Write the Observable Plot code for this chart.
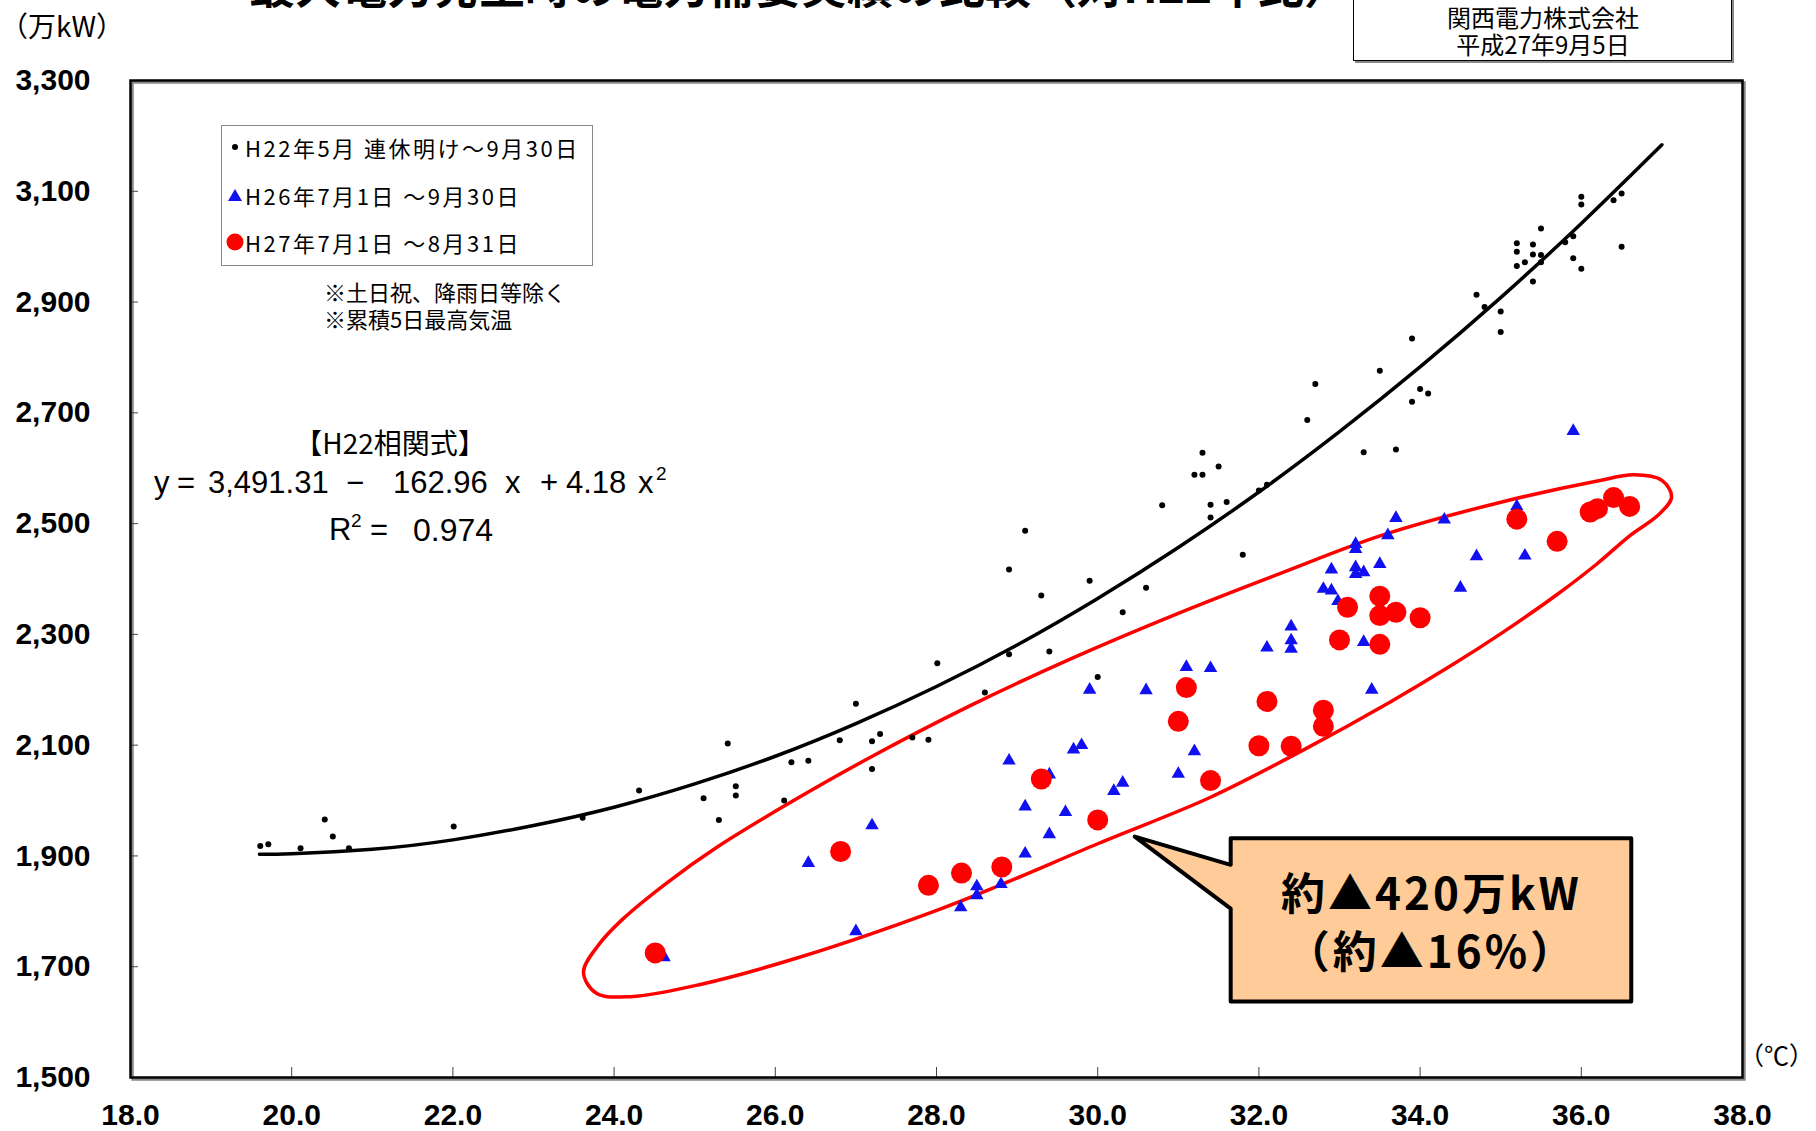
<!DOCTYPE html>
<html><head><meta charset="utf-8">
<script src="https://cdn.jsdelivr.net/npm/d3@7"></script>
<script src="https://cdn.jsdelivr.net/npm/@observablehq/plot@0.6"></script>
<style>
body{margin:0;background:#fff;}
#wrap{position:relative;width:1816px;height:1131px;overflow:hidden;font-family:"Noto Sans CJK JP",sans-serif;color:#000;}
.abs{position:absolute;white-space:nowrap;line-height:1;}
.eq{position:absolute;white-space:nowrap;line-height:1;font-family:'Liberation Sans',Arial,sans-serif;font-size:31px;}
#wrap > svg{position:absolute;left:0;top:0;}
</style></head><body><div id="wrap"></div>
<script>
// ---- data (temperature °C, demand 万kW) ----
const h22 = [[19.61,1918],[19.71,1921],[20.11,1914],[20.41,1966],[20.51,1935],[20.71,1914],[22.01,1953],[23.61,1969],[24.31,2018],[25.11,2004],[25.30,1965],[25.41,2103],[25.51,2026],[25.51,2009],[26.11,2000],[26.20,2069],[26.41,2072],[26.80,2109],[27.00,2175],[27.20,2107],[27.20,2057],[27.30,2120],[27.70,2114],[27.90,2110],[28.01,2248],[28.60,2195],[28.90,2417],[28.90,2264],[29.10,2487],[29.30,2370],[29.40,2269],[29.90,2397],[30.00,2223],[30.31,2340],[30.60,2384],[30.80,2533],[31.20,2588],[31.30,2588],[31.30,2628],[31.40,2534],[31.40,2511],[31.50,2603],[31.60,2539],[31.80,2444],[32.00,2560],[32.10,2570],[32.60,2687],[32.70,2752],[33.30,2629],[33.50,2776],[33.70,2634],[33.90,2834],[33.90,2720],[34.00,2743],[34.10,2735],[34.70,2913],[34.80,2891],[35.00,2883],[35.00,2846],[35.20,3006],[35.20,2991],[35.20,2965],[35.30,2972],[35.40,3004],[35.40,2986],[35.40,2937],[35.50,3033],[35.50,2985],[35.50,2972],[35.80,3008],[35.90,3019],[35.90,2979],[36.00,3090],[36.00,3076],[36.00,2960],[36.40,3084],[36.50,3096],[36.50,3000]];
const h26 = [[24.62,1717],[26.41,1887],[27.00,1764],[27.20,1955],[28.30,1807],[28.50,1845],[28.50,1829],[28.80,1849],[28.90,2072],[29.10,1904],[29.10,1989],[29.40,1939],[29.40,2047],[29.60,1979],[29.70,2092],[29.80,2100],[29.90,2200],[30.20,2017],[30.31,2032],[30.60,2199],[31.00,2048],[31.10,2241],[31.20,2089],[31.40,2239],[32.10,2276],[32.40,2314],[32.40,2289],[32.40,2274],[32.80,2382],[32.90,2379],[32.98,2360],[32.90,2417],[33.20,2463],[33.20,2454],[33.20,2421],[33.20,2409],[33.30,2412],[33.30,2286],[33.40,2200],[33.50,2427],[33.60,2479],[33.70,2510],[34.30,2507],[34.50,2384],[34.70,2441],[35.20,2531],[35.30,2442],[35.90,2667]];
const h27 = [[24.51,1725],[26.81,1908],[27.90,1847],[28.31,1869],[28.81,1880],[29.30,2039],[30.00,1965],[31.00,2143],[31.10,2204],[31.40,2036],[32.00,2099],[32.10,2179],[32.40,2098],[32.80,2163],[32.80,2134],[33.00,2290],[33.10,2349],[33.50,2369],[33.50,2334],[33.50,2282],[33.70,2340],[34.00,2330],[35.20,2508],[35.70,2468],[36.11,2521],[36.20,2527],[36.40,2547],[36.60,2531]];
// H22 regression curve
const curvePts = [[19.6,1903],[20,1904],[21,1912],[22,1929],[23,1955],[24,1988],[25,2030],[26,2080],[27,2139],[28,2206],[29,2281],[30,2365],[31,2457],[32,2557],[33,2666],[34,2783],[35,2908],[36,3042],[37,3184]];
// red annotation ellipse outline
const ellipsePts = [[23.62,1690],[23.80,1738],[24.10,1785],[24.66,1852],[25.28,1916],[26.11,1990],[27.14,2075],[28.40,2170],[29.70,2258],[31.00,2338],[32.30,2412],[33.55,2480],[35.04,2540],[36.20,2577],[36.65,2588],[37.00,2578],[37.12,2548],[36.95,2515],[36.60,2478],[36.20,2428],[35.70,2372],[35.04,2305],[34.40,2245],[33.63,2178],[32.56,2092],[31.40,2006],[30.00,1922],[28.80,1848],[27.97,1800],[26.32,1718],[25.07,1668],[24.21,1646],[23.78,1652]];
// callout bubble outline and texts
const calloutPts = [[31.65,1932],[36.62,1932],[36.62,1637],[31.65,1637],[31.65,1805],[30.46,1935],[31.65,1884]];
const calloutText = [{x:34.14,y:1827,label:"約▲420万kW"},{x:34.14,y:1724,label:"（約▲16%）"}];
const xTicks = [18,20,22,24,26,28,30,32,34,36,38];
const yTicks = [1500,1700,1900,2100,2300,2500,2700,2900,3100,3300];
const legendLabels = ["H22年5月 連休明け～9月30日","H26年7月1日 ～9月30日","H27年7月1日 ～8月31日"];
const notes = ["※土日祝、降雨日等除く","※累積5日最高気温"];
const titleText = "最大電力発生時の電力需要実績の比較（対H22年比）";
const orgLines = ["関西電力株式会社","平成27年9月5日"];
// equation tokens: [text, left px]
const eqTokens = [["y",154],["=",177],["3,491.31",208],["−",346],["162.96",393],["x",505],["+",540],["4.18",566],["x",638]];

const W=1816,H=1131,mL=130,mR=74,mT=80,mB=54;
const pw=W-mL-mR, ph=H-mT-mB;
const chart = Plot.plot({
  width:W,height:H,marginLeft:mL,marginRight:mR,marginTop:mT,marginBottom:mB,
  style:{fontFamily:"'Liberation Sans', Arial, sans-serif",background:"transparent",color:"#000"},
  x:{domain:[18,38]},
  y:{domain:[1500,3300]},
  marks:[
    Plot.frame({stroke:"#888",strokeWidth:2.5,dx:2,dy:2}),
    Plot.axisX({ticks:xTicks,tickSize:0,tickPadding:26,tickFormat:d3.format(".1f"),fontSize:30,fontWeight:"bold",label:null}),
    Plot.axisY({ticks:yTicks,tickSize:0,tickPadding:40,tickFormat:d3.format(","),fontSize:30,fontWeight:"bold",label:null}),
    Plot.tickX(xTicks.slice(1,-1),{x:d=>d,insetTop:ph-10,stroke:"#444",strokeWidth:1}),
    Plot.tickY(yTicks.slice(1,-1),{y:d=>d,insetRight:pw-8,stroke:"#444",strokeWidth:1}),
    Plot.line(ellipsePts,{x:d=>d[0],y:d=>d[1],stroke:"#ff0000",strokeWidth:3.5,curve:"catmull-rom-closed"}),
    Plot.line(curvePts,{x:d=>d[0],y:d=>d[1],stroke:"#000",strokeWidth:3.5,curve:"natural"}),
    Plot.dot(h22,{x:d=>d[0],y:d=>d[1],r:3,fill:"#000"}),
    Plot.dot(h26,{x:d=>d[0],y:d=>d[1],r:5,symbol:"triangle",fill:"#1010f0"}),
    Plot.dot(h27,{x:d=>d[0],y:d=>d[1],r:10.5,fill:"#ff0000"}),
    Plot.line(calloutPts,{x:d=>d[0],y:d=>d[1],fill:"#ffcc99",stroke:"#000",strokeWidth:4,curve:"linear-closed"}),
    Plot.text(calloutText,{x:"x",y:"y",text:"label",fontSize:44,fontWeight:"bold",fontFamily:"'Noto Sans CJK JP', sans-serif",fill:"#000"}),
    Plot.frame({stroke:"#000",strokeWidth:2.5})
  ]
});
const wrap=document.getElementById("wrap");
wrap.appendChild(chart);
chart.querySelectorAll("text").forEach(t=>{ if(/[約]/.test(t.textContent)) t.setAttribute("letter-spacing","3"); });

function add(html,css,cls){const d=document.createElement("div");d.className=cls||"abs";d.innerHTML=html;Object.assign(d.style,css);wrap.appendChild(d);return d;}
// clipped title at top (the reference shows only its lower edge)
add(titleText,{left:"249px",top:"-40px",fontSize:"46px",fontWeight:"bold"});
// organisation box
add("",{left:"1353px",top:"-20px",width:"379px",height:"81px",border:"1.5px solid #000",boxShadow:"2px 2px 0 #888",boxSizing:"border-box",background:"#fff"});
orgLines.forEach((t,i)=>add(t,{left:"1543px",top:`${5+i*27}px`,fontSize:"24px",transform:"translateX(-50%)"}));
// axis unit labels
add("（万kW）",{left:"0px",top:"11px",fontSize:"28px"});
add("（℃）",{left:"1739px",top:"1042px",fontSize:"25px"});
// legend box
const markers=[
 '<svg width="18" height="18" style="display:block"><circle cx="9" cy="9" r="3" fill="#000"/></svg>',
 '<svg width="18" height="18" style="display:block"><path d="M9,3 L16,15 L2,15Z" fill="#1010f0"/></svg>',
 '<svg width="18" height="18" style="display:block"><circle cx="9" cy="9" r="8.5" fill="#ff0000"/></svg>'];
const lg=add("",{left:"221px",top:"125px",width:"372px",height:"141px",border:"1.5px solid #888",boxSizing:"border-box",background:"#fff"});
legendLabels.forEach((t,i)=>{
  const r=document.createElement("div");
  r.style.cssText=`position:absolute;left:4px;top:${9+i*47.5}px;font-size:22px;line-height:24px;display:flex;align-items:center;gap:1px;letter-spacing:2.5px;white-space:nowrap`;
  r.innerHTML=markers[i]+"<span>"+t+"</span>";
  lg.appendChild(r);
});
notes.forEach((t,i)=>add(t,{left:"324px",top:`${280+i*27}px`,fontSize:"22px"}));
// equation
add("【H22相関式】",{left:"390px",top:"428px",fontSize:"28px",transform:"translateX(-50%)"});
eqTokens.forEach(([t,l])=>add(t,{left:`${l}px`,top:"467px"},"eq"));
add("2",{left:"656px",top:"464px",fontSize:"19px"},"eq");
add("R",{left:"329px",top:"514px",fontSize:"31px"},"eq");
add("2",{left:"351px",top:"511px",fontSize:"19px"},"eq");
add("=",{left:"370px",top:"514px",fontSize:"31px"},"eq");
add("0.974",{left:"413px",top:"514px",fontSize:"32px"},"eq");
</script></body></html>
